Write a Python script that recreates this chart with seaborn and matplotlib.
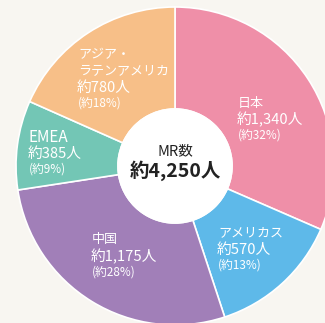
import matplotlib
matplotlib.use("Agg")
import matplotlib.pyplot as plt
import seaborn as sns

# MR headcount by region
regions = ["日本", "アメリカス", "中国", "EMEA", "アジア・\nラテンアメリカ"]
counts = [1340, 570, 1175, 385, 780]
count_labels = ["約1,340人", "約570人", "約1,175人", "約385人", "約780人"]
shares = [32, 13, 28, 9, 18]
total_label = "約4,250人"
colors = ["#EF8FA8", "#5EB9E9", "#A17FB8", "#73C6B5", "#F7BF88"]

sns.set_style("white")
plt.rcParams["font.family"] = ["Noto Sans CJK JP", "DejaVu Sans"]

W, H = 325, 323
bg = "#F8F6F1"
fig = plt.figure(figsize=(W / 100, H / 100), dpi=100, facecolor=bg)
ax = fig.add_axes([0, 0, 1, 1])
ax.set_facecolor(bg)

cx, cy = 175, H - 166
R, r = 159, 57

ax.pie(counts, colors=sns.color_palette(colors), startangle=90, counterclock=False,
       center=(cx, cy), radius=R, frame=True,
       wedgeprops=dict(width=R - r, edgecolor="white", linewidth=1.2))
ax.add_patch(plt.Circle((cx, cy), r, facecolor="white", edgecolor="white", lw=1.2, zorder=3))
ax.set_xlim(0, W)
ax.set_ylim(0, H)
ax.set_aspect("equal")
ax.axis("off")

# label anchors (left edge, top line y in image rows)
anchors = [(238, 103), (218, 233), (92, 240), (29, 137), (78, 55)]
for name, cl, sh, (x, y) in zip(regions, count_labels, shares, anchors):
    yy = y
    name_size = 11 if name.isascii() else 9.4
    for ln in name.split("\n"):
        ax.text(x, H - yy, ln, color="white", fontsize=name_size, ha="left", va="center", zorder=4)
        yy += 16.5
    ax.text(x - 1, H - yy, cl, color="white", fontsize=10.6, ha="left", va="center", zorder=4)
    yy += 15.5
    ax.text(x, H - yy, f"(約{sh}%)", color="white", fontsize=8.5, ha="left", va="center", zorder=4)

ax.text(cx, H - 151, "MR数", color="#222222", fontsize=10.5, ha="center", va="center", zorder=4)
ax.text(cx, H - 171, total_label, color="#222222", fontsize=14, fontweight="bold",
        ha="center", va="center", zorder=4)

fig.savefig("out.png", dpi=100, facecolor=bg)
